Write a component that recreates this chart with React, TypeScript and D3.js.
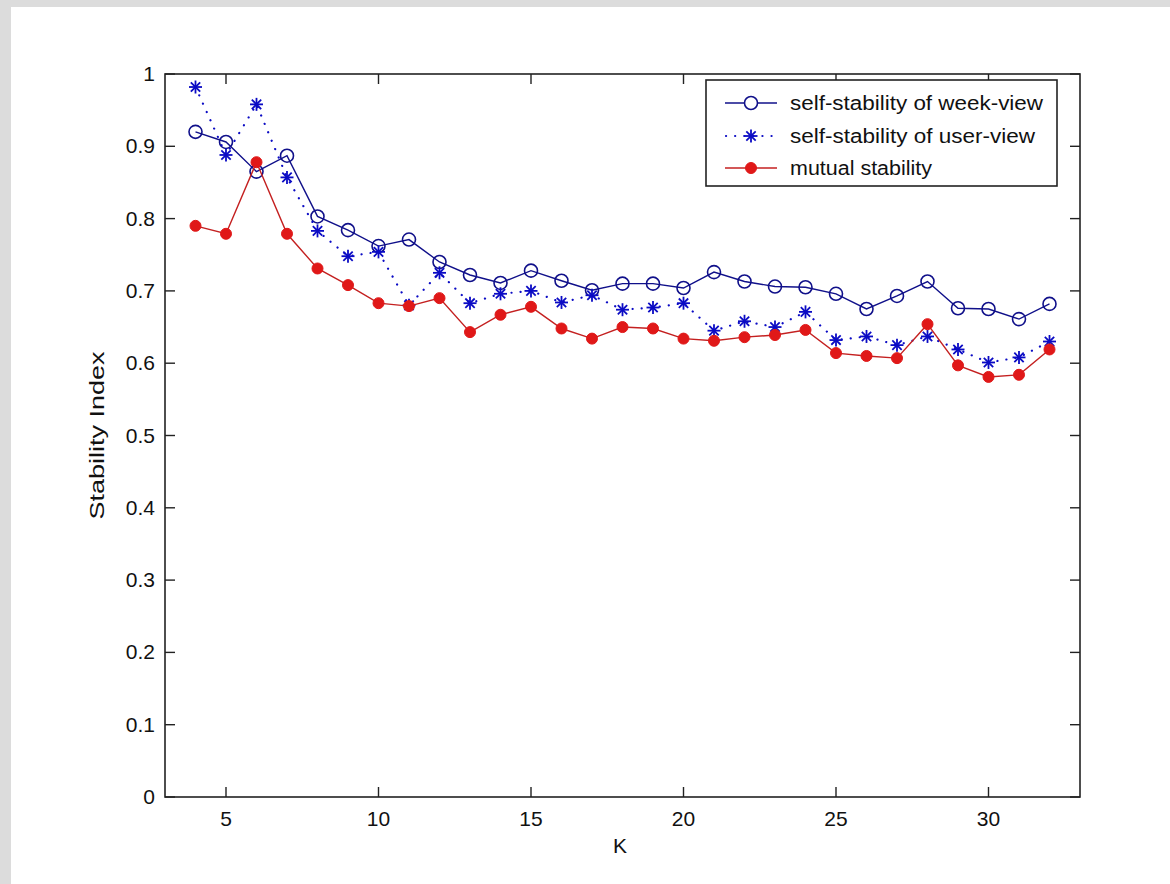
import React from "react";
import * as d3 from "d3";

const kValues = [4,5,6,7,8,9,10,11,12,13,14,15,16,17,18,19,20,21,22,23,24,25,26,27,28,29,30,31,32];
const weekView = [0.920,0.906,0.865,0.887,0.803,0.784,0.762,0.771,0.740,0.722,0.711,0.728,0.714,0.701,0.710,0.710,0.704,0.726,0.713,0.706,0.705,0.696,0.675,0.693,0.713,0.676,0.675,0.661,0.682];
const userView = [0.982,0.888,0.958,0.857,0.783,0.748,0.754,0.680,0.725,0.683,0.696,0.700,0.684,0.694,0.674,0.677,0.683,0.645,0.658,0.650,0.671,0.632,0.637,0.625,0.637,0.619,0.601,0.608,0.630];
const mutual = [0.790,0.779,0.878,0.779,0.731,0.708,0.683,0.679,0.690,0.643,0.667,0.678,0.648,0.634,0.650,0.648,0.634,0.631,0.636,0.639,0.646,0.614,0.610,0.607,0.654,0.597,0.581,0.584,0.619];
const xTicks = [5,10,15,20,25,30];
const yTicks = [0,0.1,0.2,0.3,0.4,0.5,0.6,0.7,0.8,0.9,1];
const legendLabels = ["self-stability of week-view","self-stability of user-view","mutual stability"];
const legendTextWidths = [253, 245, 142];

const W = 1170, H = 884;
const L = 165, R = 1080, T = 74, B = 797;
const FONT = "'Liberation Sans', Arial, sans-serif";
const BLUE = "#10108a";
const STAR = "#0b0bc4";
const RED = "#e01818";
const REDLINE = "#c42020";
const AX = "#222";
const DOTS = "0.1 9";

function Star({ x, y, r, color }: { x: number; y: number; r: number; color: string }) {
  const d = r * 0.72;
  return (
    <g stroke={color} strokeWidth={1.8}>
      <line x1={x - r} y1={y} x2={x + r} y2={y} />
      <line x1={x} y1={y - r} x2={x} y2={y + r} />
      <line x1={x - d} y1={y - d} x2={x + d} y2={y + d} />
      <line x1={x - d} y1={y + d} x2={x + d} y2={y - d} />
    </g>
  );
}

export default function App() {
  const x = d3.scaleLinear().domain([3, 33]).range([L, R]);
  const y = d3.scaleLinear().domain([0, 1]).range([B, T]);
  const line = d3.line<number>().x((_, i) => x(kValues[i])).y((v) => y(v));
  const tick = 10;
  const legX = 706, legY = 80, legW = 351, legH = 106;
  const rows = [103, 136, 168];

  return (
    <svg width={W} height={H} style={{ position: "absolute", left: 0, top: 0 }} fontFamily={FONT}>
      <rect x={0} y={0} width={W} height={H} fill="#dcdcdc" />
      <rect x={11} y={7} width={W - 11} height={H - 7} fill="#ffffff" />
      {/* axes box */}
      <rect x={L} y={T} width={R - L} height={B - T} fill="none" stroke={AX} strokeWidth={1.6} />
      {xTicks.map((t) => (
        <g key={"xt" + t}>
          <line x1={x(t)} x2={x(t)} y1={B} y2={B - tick} stroke={AX} strokeWidth={1.4} />
          <line x1={x(t)} x2={x(t)} y1={T} y2={T + tick} stroke={AX} strokeWidth={1.4} />
          <text x={x(t)} y={B + 29} fontSize={21} textAnchor="middle" fill="#111">{t}</text>
        </g>
      ))}
      {yTicks.map((t) => (
        <g key={"yt" + t}>
          <line x1={L} x2={L + tick} y1={y(t)} y2={y(t)} stroke={AX} strokeWidth={1.4} />
          <line x1={R} x2={R - tick} y1={y(t)} y2={y(t)} stroke={AX} strokeWidth={1.4} />
          <text x={L - 10} y={y(t) + 7} fontSize={21} textAnchor="end" fill="#111">{String(t)}</text>
        </g>
      ))}
      <text x={620} y={853} fontSize={21} textAnchor="middle" fill="#111">K</text>
      <text transform={`translate(104,${(T + B) / 2}) rotate(-90)`} fontSize={21} textAnchor="middle" fill="#111"
        textLength={168} lengthAdjust="spacingAndGlyphs">Stability Index</text>

      {/* series */}
      <path d={line(weekView) || ""} fill="none" stroke={BLUE} strokeWidth={1.4} />
      {weekView.map((v, i) => (
        <circle key={"w" + i} cx={x(kValues[i])} cy={y(v)} r={6.5} fill="none" stroke={BLUE} strokeWidth={1.6} />
      ))}
      <path d={line(userView) || ""} fill="none" stroke={STAR} strokeWidth={2.2} strokeDasharray={DOTS} strokeLinecap="round" />
      {userView.map((v, i) => (
        <Star key={"u" + i} x={x(kValues[i])} y={y(v)} r={6.5} color={STAR} />
      ))}
      <path d={line(mutual) || ""} fill="none" stroke={REDLINE} strokeWidth={1.4} />
      {mutual.map((v, i) => (
        <circle key={"m" + i} cx={x(kValues[i])} cy={y(v)} r={5.5} fill={RED} stroke={RED} strokeWidth={1} />
      ))}

      {/* legend */}
      <rect x={legX} y={legY} width={legW} height={legH} fill="#fff" stroke={AX} strokeWidth={1.6} />
      <line x1={725} x2={777} y1={rows[0]} y2={rows[0]} stroke={BLUE} strokeWidth={1.4} />
      <circle cx={751} cy={rows[0]} r={6.5} fill="#fff" stroke={BLUE} strokeWidth={1.6} />
      <line x1={726} x2={777} y1={rows[1]} y2={rows[1]} stroke={STAR} strokeWidth={2.2} strokeDasharray={DOTS} strokeLinecap="round" />
      <Star x={751} y={rows[1]} r={6.5} color={STAR} />
      <line x1={725} x2={777} y1={rows[2]} y2={rows[2]} stroke={REDLINE} strokeWidth={1.4} />
      <circle cx={751} cy={rows[2]} r={5.5} fill={RED} stroke={RED} />
      {legendLabels.map((lab, i) => (
        <text key={lab} x={790} y={rows[i] + 7} fontSize={20} fill="#111"
          textLength={legendTextWidths[i]} lengthAdjust="spacingAndGlyphs">{lab}</text>
      ))}
    </svg>
  );
}
